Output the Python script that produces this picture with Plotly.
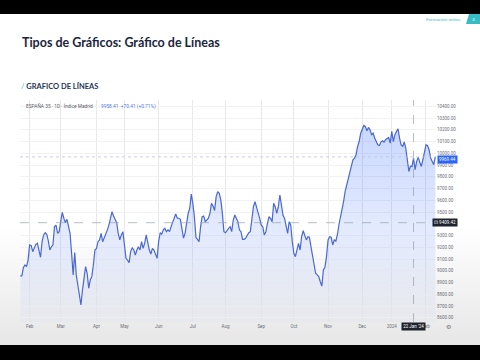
import numpy as np
import pandas as pd
import plotly.graph_objects as go

# ---------------- data ----------------
close_part1 = [8956, 8956, 9029, 9049, 9035, 9091, 9220, 9214, 9163, 9191,
               9225, 9234, 9177, 9115, 9248, 9305, 9324, 9311, 9257, 9177,
               9205, 9220, 9376, 9389, 9319, 9333, 9419, 9497, 9447, 9410,
               9438, 9389, 9319, 9149, 8965, 9155, 8965, 8879, 8780, 8709,
               8836, 8950, 9035, 8979, 8851, 8922, 8950, 9049, 9177, 9191,
               9248, 9263, 9319, 9248, 9278, 9305, 9348, 9389, 9447, 9503,
               9466, 9432, 9410, 9319, 9263, 9305, 9333, 9220, 9106]
close_part2 = [9091, 9069, 9163, 9197, 9177, 9134, 9177, 9205, 9177, 9248,
               9191, 9234, 9305, 9234, 9177, 9143, 9191, 9177, 9149, 9106,
               9248, 9324, 9311, 9348, 9361, 9333, 9348, 9333, 9376, 9419,
               9447, 9484, 9447, 9447, 9438, 9348, 9278, 9319, 9404, 9489,
               9532, 9653, 9574, 9460, 9285, 9263, 9248, 9376, 9460, 9466,
               9419, 9432, 9447, 9489, 9574, 9551, 9512, 9631, 9674, 9659,
               9603, 9489, 9333, 9324, 9348]
close_part3 = [9361, 9375, 9333, 9432, 9475, 9446, 9418, 9347, 9333, 9268,
               9268, 9278, 9304, 9324, 9333, 9432, 9546, 9588, 9546, 9503,
               9446, 9389, 9375, 9304, 9333, 9404, 9460, 9446, 9418, 9574,
               9546, 9488, 9546, 9645, 9574, 9475, 9446, 9375, 9319, 9418,
               9389, 9248, 9149, 9120, 9190, 9233, 9177, 9290, 9341, 9304,
               9263, 9290, 9285, 9205, 9120, 9035, 8979, 8965, 8950, 8907,
               8870, 9007, 9029, 9120, 9263, 9290, 9285, 9220, 9263]
close_part4 = [9252, 9307, 9392, 9449, 9534, 9590, 9675, 9731, 9789, 9846,
               9903, 9945, 9959, 9988, 10059, 10100,
               10171, 10214, 10237, 10228, 10192, 10220, 10200, 10158, 10171, 10130,
               10100, 10072, 10066, 10096, 10106, 10096, 10115, 10124, 10134, 10087,
               10186, 10100, 10158, 10186, 10208, 10130, 10072, 10059, 10096, 10044,
               9959, 9845, 9890, 9888.00, 9958.41, 9860, 9931, 9965, 9925, 9888,
               9945, 10016, 10072, 10066, 10030, 9959, 9931, 9903, 9969.44]

market_holidays = ["2023-04-07", "2023-04-10", "2023-05-01",
                   "2023-12-25", "2023-12-26", "2024-01-01"]
last_date = "2024-02-09"
crosshair_date = "2024-01-22"
crosshair_price = 9409.42
# 9400.00 is hidden behind the crosshair price label in the reference
price_ticks = [8600, 8700, 8800, 8900, 9000, 9100, 9200, 9300, 9500,
               9600, 9700, 9800, 9900, 10000, 10100, 10200, 10300, 10400]

values = close_part1 + close_part2 + close_part3 + close_part4
n = len(values)
dates = pd.bdate_range(end=last_date, periods=n, freq="C", holidays=market_holidays)
idx = list(range(n))

tick_idx, tick_txt = [], []
prev = None
for i, d in enumerate(dates):
    key = (d.year, d.month)
    if prev is not None and key != prev:
        tick_idx.append(i)
        tick_txt.append(str(d.year) if d.month == 1 else d.strftime("%b"))
    prev = key

ci = int(np.where(dates == pd.Timestamp(crosshair_date))[0][0])
c_close = values[ci]
c_chg = c_close - values[ci - 1]
c_pct = c_chg / values[ci - 1] * 100
last_val = values[-1]

# ---------------- geometry helpers ----------------
W, H = 480, 360
def px(x): return x / W
def py(y): return 1 - y / H

PLOT_L, PLOT_R, PLOT_T, PLOT_B = 20, 436, 100, 322
Y_RANGE = [8564.2, 10453.6]
X_RANGE = [-0.2, n - 1 + 0.45]

fig = go.Figure()
fig.add_trace(go.Scatter(
    x=idx, y=values, mode="lines",
    line=dict(color="#4a68d0", width=1.2),
    fill="tozeroy",
    fillgradient=dict(type="vertical",
                      colorscale=[[0, "rgba(41,98,255,0.02)"], [1, "rgba(41,98,255,0.25)"]],
                      start=Y_RANGE[0], stop=10240),
    hoverinfo="skip", showlegend=False))

shapes = []
# soft grey vignette at the bottom of the slide
for k in range(24):
    y0 = 230 + k * 4.8
    shapes.append(dict(type="rect", xref="paper", yref="paper", x0=0, x1=1,
                       y0=py(345), y1=py(y0), fillcolor="rgba(140,140,150,0.0095)",
                       line=dict(width=0), layer="below"))
# black bars
shapes.append(dict(type="rect", xref="paper", yref="paper", x0=0, x1=1, y0=py(14), y1=1,
                   fillcolor="black", line=dict(width=0)))
shapes.append(dict(type="rect", xref="paper", yref="paper", x0=0, x1=1, y0=0, y1=py(345),
                   fillcolor="black", line=dict(width=0)))
# teal page tab
shapes.append(dict(type="path", xref="paper", yref="paper",
                   path=f"M {px(469)},{py(14)} L {px(480)},{py(14)} L {px(480)},{py(24)} L {px(466)},{py(24)} Z",
                   fillcolor="#37bcc4", line=dict(width=0)))
# current price line
shapes.append(dict(type="line", xref="paper", yref="y", x0=px(PLOT_L), x1=px(PLOT_R),
                   y0=last_val, y1=last_val, line=dict(color="#b8c2dc", width=0.8, dash="dot")))
# crosshair lines
shapes.append(dict(type="line", xref="paper", yref="y", x0=px(PLOT_L), x1=px(PLOT_R),
                   y0=crosshair_price, y1=crosshair_price,
                   line=dict(color="#9aa0aa", width=0.7, dash="dash")))
shapes.append(dict(type="line", xref="x", yref="paper", x0=ci, x1=ci,
                   y0=py(PLOT_B), y1=py(PLOT_T),
                   line=dict(color="#9aa0aa", width=0.7, dash="dash")))

ann = []
ann.append(dict(x=px(20), y=py(42), xref="paper", yref="paper", xanchor="left", yanchor="middle",
                text="<b>Tipos de Gráficos: Gráfico de Líneas</b>",
                font=dict(family="Lato", size=12.5, color="#1b2540"), showarrow=False))
ann.append(dict(x=px(19), y=py(86), xref="paper", yref="paper", xanchor="left", yanchor="middle",
                text="<span style='color:#2cb5c0'>/</span> <b>GRAFICO DE LÍNEAS</b>",
                font=dict(family="Lato", size=7.5, color="#1f3555"), showarrow=False))
ann.append(dict(x=px(463), y=py(18.5), xref="paper", yref="paper", xanchor="right", yanchor="middle",
                text="Formación online", font=dict(family="Lato", size=4.6, color="#3cbfc8"),
                showarrow=False))
ann.append(dict(x=px(473.5), y=py(19), xref="paper", yref="paper", xanchor="center", yanchor="middle",
                text="3", font=dict(family="Lato", size=4.6, color="white"), showarrow=False))
ann.append(dict(x=px(24), y=py(106), xref="paper", yref="paper", xanchor="left", yanchor="middle",
                text="ESPAÑA 35 · 1D · Índice Madrid",
                font=dict(family="Roboto", size=4.8, color="#5d6068"), showarrow=False))
ann.append(dict(x=px(99), y=py(106), xref="paper", yref="paper", xanchor="left", yanchor="middle",
                text=f"{c_close:.2f}  {c_chg:+.2f} ({c_pct:+.2f}%)",
                font=dict(family="Roboto", size=4.8, color="#4f7be8"), showarrow=False))
ann.append(dict(x=px(436.5), y=last_val, xref="paper", yref="y", xanchor="left", yanchor="middle",
                yshift=-3, text=f"{last_val:.2f}", bgcolor="#2962ff", borderpad=1,
                font=dict(family="Roboto", size=4.5, color="white"), showarrow=False))
ann.append(dict(x=px(458), y=crosshair_price, xref="paper", yref="y", xanchor="right", yanchor="middle",
                text=f"⊡ {crosshair_price:.2f}", bgcolor="#1e222d", borderpad=1,
                font=dict(family="Roboto", size=4.5, color="white"), showarrow=False))
ann.append(dict(x=ci, y=py(326.5), xref="x", yref="paper", xanchor="center", yanchor="middle",
                text=pd.Timestamp(crosshair_date).strftime("%d %b '%y"), bgcolor="#1e222d", borderpad=1.2,
                font=dict(family="Roboto", size=4.5, color="white"), showarrow=False))
ann.append(dict(x=px(448), y=py(326), xref="paper", yref="paper", xanchor="center", yanchor="middle",
                text="⚙", font=dict(family="DejaVu Sans", size=6, color="#777"), showarrow=False))

fig.update_layout(
    width=W, height=H, autosize=False,
    margin=dict(l=0, r=0, t=0, b=0),
    paper_bgcolor="white", plot_bgcolor="rgba(0,0,0,0)",
    shapes=shapes, annotations=ann, showlegend=False,
    xaxis=dict(domain=[px(PLOT_L), px(PLOT_R)], range=X_RANGE,
               tickvals=tick_idx, ticktext=tick_txt, ticks="",
               tickfont=dict(family="Roboto", size=4.5, color="#6d7078"),
               showgrid=True, gridcolor="#e8e8ea", gridwidth=0.7,
               zeroline=False, showline=False, fixedrange=True),
    yaxis=dict(domain=[py(PLOT_B), py(PLOT_T)], range=Y_RANGE, side="right",
               tickvals=price_ticks, ticktext=[f"{v:.2f}" for v in price_ticks], ticks="",
               tickfont=dict(family="Roboto", size=4.5, color="#6d7078"),
               showgrid=True, gridcolor="#f2f2f4", gridwidth=0.6,
               zeroline=False, showline=False, fixedrange=True),
)

fig.write_html("out.html", config={"displayModeBar": False},
               post_script="document.body.style.margin='0px';document.body.style.overflow='hidden';")
